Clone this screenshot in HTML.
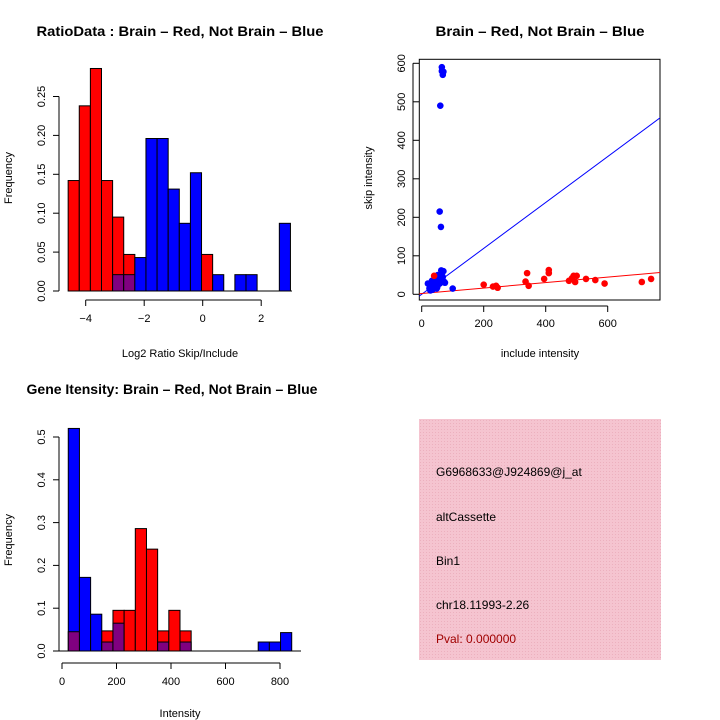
<!DOCTYPE html>
<html><head><meta charset="utf-8"><style>
body{margin:0;background:#fff}
svg{display:block;font-family:"Liberation Sans",sans-serif}
</style></head><body>
<svg id="c" width="720" height="720" viewBox="0 0 720 720">
<rect width="720" height="720" fill="#fff"/>
<text x="180" y="36" font-size="14" font-weight="bold" text-anchor="middle" textLength="287" lengthAdjust="spacingAndGlyphs">RatioData : Brain – Red, Not Brain – Blue</text>
<text x="540" y="36" font-size="14" font-weight="bold" text-anchor="middle" textLength="209" lengthAdjust="spacingAndGlyphs">Brain – Red, Not Brain – Blue</text>
<text x="172" y="394" font-size="14" font-weight="bold" text-anchor="middle">Gene Itensity: Brain – Red, Not Brain – Blue</text>
<text x="180" y="357" font-size="11" text-anchor="middle">Log2 Ratio Skip/Include</text>
<text x="12" y="178" font-size="11" text-anchor="middle" transform="rotate(-90 12 178)">Frequency</text>
<text x="540" y="357" font-size="11" text-anchor="middle">include intensity</text>
<text x="372" y="178" font-size="11" text-anchor="middle" transform="rotate(-90 372 178)">skip intensity</text>
<text x="180" y="717" font-size="11" text-anchor="middle">Intensity</text>
<text x="12" y="540" font-size="11" text-anchor="middle" transform="rotate(-90 12 540)">Frequency</text>
<defs><pattern id="hat" width="3" height="3" patternUnits="userSpaceOnUse"><rect width="3" height="3" fill="#f5c4d0"/><rect width="1" height="1" fill="#ecb0be"/></pattern></defs>
<rect x="419" y="419" width="242" height="241" fill="url(#hat)"/>
<g font-size="12">
<text x="436" y="476">G6968633@J924869@j_at</text>
<text x="436" y="521">altCassette</text>
<text x="436" y="565">Bin1</text>
<text x="436" y="609">chr18.11993-2.26</text>
<text x="436" y="643" fill="#a00000">Pval: 0.000000</text>
</g>
<g id="g"></g>
</svg>
<script>
// Ratio histogram
const ratioBinStart = -4.6, ratioBinWidth = 0.38;
const ratioRed  = [0.142,0.238,0.286,0.142,0.095,0.047,0,0,0,0,0,0,0.047,0,0,0,0,0,0,0];
const ratioBlue = [0,0,0,0,0.021,0.021,0.043,0.196,0.196,0.131,0.087,0.152,0,0.021,0,0.021,0.021,0,0,0.087];
const ratioXTicks = [-4,-2,0,2];
const ratioYTicks = [0,0.05,0.10,0.15,0.20,0.25];
// Intensity histogram
const intBinStart = 23, intBinWidth = 41;
const intRed  = [0.045,0,0,0.047,0.095,0.095,0.286,0.238,0.047,0.095,0.047,0,0,0,0,0,0,0,0,0];
const intBlue = [0.52,0.172,0.086,0.021,0.065,0,0,0,0.021,0,0.021,0,0,0,0,0,0,0.021,0.021,0.043];
const intXTicks = [0,200,400,600,800];
const intYTicks = [0,0.1,0.2,0.3,0.4,0.5];
// Scatter
const blueX = [20,25,30,35,40,45,50,55,60,65,70,28,38,48,58,68,33,43,53,63,73,60,65,68,65,70,58,62,100,75,45,52];
const blueY = [28,15,20,12,25,30,18,35,40,55,60,10,22,15,28,45,35,20,25,62,32,490,580,570,590,578,215,175,15,30,40,50];
const redX = [40,200,230,240,245,335,340,345,395,410,410,475,485,490,495,500,530,560,590,710,740];
const redY = [48,25,20,22,17,33,55,22,40,55,63,35,42,48,32,48,40,37,28,32,40];
const scXTicks = [0,200,400,600];
const scYTicks = [0,100,200,300,400,500,600];
const blueFit = [0,0.596], redFit = [2,0.071];

const NS="http://www.w3.org/2000/svg", G=document.getElementById('g');
function el(t,a,p){const e=document.createElementNS(NS,t);for(const k in a)e.setAttribute(k,a[k]);(p||G).appendChild(e);return e;}
function txt(x,y,s,a){const e=el('text',Object.assign({x:x,y:y,'font-size':11,'text-anchor':'middle'},a||{}));e.textContent=s;return e;}

function hist(xs,ys,start,w,red,blue,xt,yt,yLeft,xAxisY,xFmt,yFmt,pfx){
  for(let i=0;i<red.length;i++){
    const r=red[i],b=blue[i];if(!r&&!b)continue;
    const x0=xs(start+i*w),x1=xs(start+(i+1)*w);
    const hi=Math.max(r,b),lo=Math.min(r,b);
    const e=el('rect',{x:x0,y:ys(hi),width:x1-x0,height:ys(0)-ys(hi),fill:r>=b?'#ff0000':'#0000ff',stroke:'#000','stroke-width':1});
    
    
    if(lo>0){const p=el('rect',{x:x0,y:ys(lo),width:x1-x0,height:ys(0)-ys(lo),fill:'#800080',stroke:'#000','stroke-width':1});
      
      }
  }
  el('line',{x1:yLeft,x2:yLeft,y1:ys(yt[0]),y2:ys(yt[yt.length-1]),stroke:'#000'});
  yt.forEach(v=>{el('line',{x1:yLeft-6,x2:yLeft,y1:ys(v),y2:ys(v),stroke:'#000'});
    const y=ys(v);txt(yLeft-14,y,yFmt(v),{transform:`rotate(-90 ${yLeft-14} ${y})`});});
  el('line',{x1:xs(xt[0]),x2:xs(xt[xt.length-1]),y1:xAxisY,y2:xAxisY,stroke:'#000'});
  xt.forEach(v=>{el('line',{x1:xs(v),x2:xs(v),y1:xAxisY,y2:xAxisY+6,stroke:'#000'});txt(xs(v),xAxisY+22,xFmt(v));});
}
// top-left
const rxs=v=>85.7+(v+4)*29.25, rys=v=>291-v*778;
hist(rxs,rys,ratioBinStart,ratioBinWidth,ratioRed,ratioBlue,ratioXTicks,ratioYTicks,59,300,v=>String(v).replace('-','−'),v=>v.toFixed(2),'ratio');
el('line',{x1:68,x2:292,y1:291,y2:291,stroke:'#000'});
// bottom-left
const ixs=v=>62+v*0.2725, iys=v=>651-v*428;
hist(ixs,iys,intBinStart,intBinWidth,intRed,intBlue,intXTicks,intYTicks,59,663,v=>String(v),v=>v.toFixed(1),'intensity');
el('line',{x1:59,x2:301,y1:651,y2:651,stroke:'#000'});
// scatter
const sxs=v=>421.7+v*0.31, sys=v=>294.3-v*0.385;
el('rect',{x:419.3,y:59.3,width:240.7,height:240.7,fill:'none',stroke:'#000'});
scYTicks.forEach(v=>{el('line',{x1:413,x2:419,y1:sys(v),y2:sys(v),stroke:'#000'});txt(405,sys(v),String(v),{transform:`rotate(-90 405 ${sys(v)})`});});
el('line',{x1:413,x2:413,y1:sys(0),y2:sys(600),stroke:'#000'});
el('line',{x1:sxs(0),x2:sxs(600),y1:306,y2:306,stroke:'#000'});
scXTicks.forEach(v=>{el('line',{x1:sxs(v),x2:sxs(v),y1:306,y2:312,stroke:'#000'});txt(sxs(v),327,String(v));});
const clip=el('clipPath',{id:'sc'});el('rect',{x:419.3,y:59.3,width:240.7,height:240.7},clip);
const gs=el('g',{'clip-path':'url(#sc)'});
function fit(f,c,n){const l=el('line',{x1:sxs(-10),y1:sys(f[0]+f[1]*-10),x2:sxs(800),y2:sys(f[0]+f[1]*800),stroke:c,'stroke-width':1},gs);
  
  }
fit(blueFit,'#0000ff','blue-fit-line');fit(redFit,'#ff0000','red-fit-line');
blueX.forEach((x,i)=>{const p=el('circle',{cx:sxs(x),cy:sys(blueY[i]),r:3.3,fill:'#0000ff'},gs);
  
  });
redX.forEach((x,i)=>{const p=el('circle',{cx:sxs(x),cy:sys(redY[i]),r:3.3,fill:'#ff0000'},gs);
  
  });
</script>
</body></html>
